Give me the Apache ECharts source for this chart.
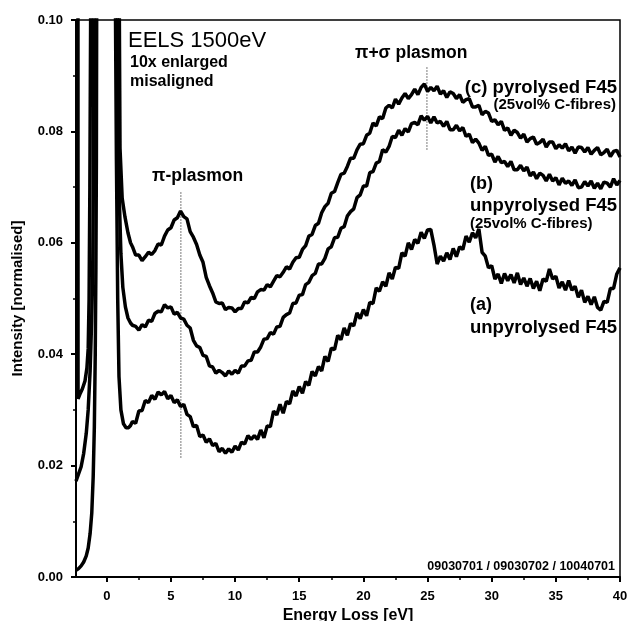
<!DOCTYPE html>
<html>
<head>
<meta charset="utf-8">
<script src="https://cdn.jsdelivr.net/npm/echarts@6/dist/echarts.min.js"></script>
<style>
  html, body { margin: 0; padding: 0; background: #fff; }
  #chart { width: 627px; height: 621px; }
</style>
</head>
<body>
<div id="chart"></div>
<script>
// energy grid (eV) for the part of the spectra after the zero-loss peak
const energy = [
  2, 2.25, 2.5, 2.75, 3, 3.25, 3.5, 3.75, 4, 4.25, 4.5, 4.75,
  5, 5.25, 5.5, 5.75, 6, 6.25, 6.5, 6.75, 7, 7.25, 7.5, 7.75,
  8, 8.25, 8.5, 8.75, 9, 9.25, 9.5, 9.75, 10, 10.25, 10.5, 10.75,
  11, 11.25, 11.5, 11.75, 12, 12.25, 12.5, 12.75, 13, 13.25, 13.5, 13.75,
  14, 14.25, 14.5, 14.75, 15, 15.25, 15.5, 15.75, 16, 16.25, 16.5, 16.75,
  17, 17.25, 17.5, 17.75, 18, 18.25, 18.5, 18.75, 19, 19.25, 19.5, 19.75,
  20, 20.25, 20.5, 20.75, 21, 21.25, 21.5, 21.75, 22, 22.25, 22.5, 22.75,
  23, 23.25, 23.5, 23.75, 24, 24.25, 24.5, 24.75, 25, 25.25, 25.5, 25.75,
  26, 26.25, 26.5, 26.75, 27, 27.25, 27.5, 27.75, 28, 28.25, 28.5, 28.75,
  29, 29.25, 29.5, 29.75, 30, 30.25, 30.5, 30.75, 31, 31.25, 31.5, 31.75,
  32, 32.25, 32.5, 32.75, 33, 33.25, 33.5, 33.75, 34, 34.25, 34.5, 34.75,
  35, 35.25, 35.5, 35.75, 36, 36.25, 36.5, 36.75, 37, 37.25, 37.5, 37.75,
  38, 38.25, 38.5, 38.75, 39, 39.25, 39.5, 39.75, 40
];

// (c) pyrolysed F45
const curveC = [
  0.0593, 0.0578, 0.0578, 0.0568, 0.0575, 0.0583, 0.0579, 0.0586, 0.0598, 0.0596, 0.0612, 0.0623,
  0.0627, 0.0641, 0.0645, 0.0657, 0.0647, 0.0643, 0.0620, 0.0610, 0.0597, 0.0578, 0.0565, 0.0538,
  0.0523, 0.0510, 0.0494, 0.0491, 0.0492, 0.0480, 0.0484, 0.0483, 0.0476, 0.0482, 0.0482, 0.0494,
  0.0492, 0.0502, 0.0500, 0.0512, 0.0516, 0.0515, 0.0525, 0.0521, 0.0531, 0.0541, 0.0539, 0.0547,
  0.0557, 0.0553, 0.0565, 0.0573, 0.0574, 0.0588, 0.0595, 0.0612, 0.0615, 0.0631, 0.0635, 0.0654,
  0.0665, 0.0671, 0.0689, 0.0692, 0.0708, 0.0723, 0.0725, 0.0737, 0.0752, 0.0752, 0.0767, 0.0777,
  0.0778, 0.0793, 0.0797, 0.0815, 0.0810, 0.0826, 0.0823, 0.0842, 0.0847, 0.0842, 0.0858, 0.0849,
  0.0860, 0.0868, 0.0859, 0.0866, 0.0876, 0.0866, 0.0879, 0.0885, 0.0872, 0.0879, 0.0873, 0.0881,
  0.0867, 0.0873, 0.0861, 0.0871, 0.0868, 0.0859, 0.0866, 0.0852, 0.0857, 0.0859, 0.0844, 0.0844,
  0.0847, 0.0830, 0.0836, 0.0833, 0.0818, 0.0821, 0.0812, 0.0818, 0.0802, 0.0806, 0.0793, 0.0802,
  0.0798, 0.0788, 0.0795, 0.0781, 0.0787, 0.0790, 0.0777, 0.0780, 0.0786, 0.0772, 0.0781, 0.0781,
  0.0769, 0.0776, 0.0770, 0.0778, 0.0765, 0.0772, 0.0761, 0.0772, 0.0771, 0.0763, 0.0771, 0.0759,
  0.0766, 0.0771, 0.0758, 0.0762, 0.0768, 0.0755, 0.0764, 0.0766, 0.0754
];

// (b) unpyrolysed F45 (25vol% C-fibres)
const curveB = [
  0.0452, 0.0450, 0.0443, 0.0453, 0.0449, 0.0461, 0.0459, 0.0473, 0.0477, 0.0476, 0.0489, 0.0483,
  0.0485, 0.0472, 0.0475, 0.0465, 0.0463, 0.0452, 0.0447, 0.0425, 0.0415, 0.0412, 0.0398, 0.0396,
  0.0379, 0.0377, 0.0366, 0.0371, 0.0367, 0.0361, 0.0370, 0.0364, 0.0371, 0.0366, 0.0379, 0.0379,
  0.0388, 0.0389, 0.0404, 0.0404, 0.0413, 0.0427, 0.0428, 0.0439, 0.0436, 0.0449, 0.0450, 0.0466,
  0.0471, 0.0474, 0.0491, 0.0492, 0.0506, 0.0507, 0.0525, 0.0529, 0.0541, 0.0545, 0.0562, 0.0562,
  0.0572, 0.0589, 0.0593, 0.0609, 0.0610, 0.0626, 0.0629, 0.0648, 0.0656, 0.0661, 0.0681, 0.0686,
  0.0702, 0.0702, 0.0726, 0.0728, 0.0743, 0.0746, 0.0767, 0.0763, 0.0773, 0.0791, 0.0789, 0.0802,
  0.0793, 0.0805, 0.0799, 0.0814, 0.0816, 0.0812, 0.0828, 0.0820, 0.0827, 0.0815, 0.0826, 0.0815,
  0.0818, 0.0809, 0.0818, 0.0803, 0.0803, 0.0811, 0.0801, 0.0807, 0.0791, 0.0795, 0.0780, 0.0786,
  0.0779, 0.0766, 0.0773, 0.0757, 0.0759, 0.0745, 0.0755, 0.0744, 0.0746, 0.0737, 0.0746, 0.0731,
  0.0731, 0.0739, 0.0729, 0.0736, 0.0720, 0.0727, 0.0715, 0.0725, 0.0721, 0.0711, 0.0723, 0.0711,
  0.0717, 0.0704, 0.0716, 0.0707, 0.0711, 0.0703, 0.0713, 0.0699, 0.0700, 0.0710, 0.0702, 0.0711,
  0.0698, 0.0707, 0.0697, 0.0709, 0.0707, 0.0700, 0.0715, 0.0704, 0.0712
];

// (a) unpyrolysed F45
const curveA = [
  0.0279, 0.0276, 0.0298, 0.0299, 0.0317, 0.0313, 0.0326, 0.0319, 0.0332, 0.0327, 0.0333, 0.0320,
  0.0326, 0.0313, 0.0318, 0.0306, 0.0310, 0.0292, 0.0288, 0.0270, 0.0272, 0.0252, 0.0255, 0.0242,
  0.0248, 0.0236, 0.0240, 0.0225, 0.0231, 0.0222, 0.0230, 0.0224, 0.0235, 0.0228, 0.0242, 0.0239,
  0.0254, 0.0247, 0.0254, 0.0247, 0.0264, 0.0250, 0.0271, 0.0270, 0.0298, 0.0291, 0.0310, 0.0294,
  0.0315, 0.0311, 0.0334, 0.0325, 0.0342, 0.0330, 0.0351, 0.0344, 0.0369, 0.0361, 0.0378, 0.0370,
  0.0396, 0.0387, 0.0411, 0.0408, 0.0434, 0.0426, 0.0447, 0.0434, 0.0455, 0.0451, 0.0474, 0.0464,
  0.0480, 0.0469, 0.0493, 0.0491, 0.0519, 0.0513, 0.0530, 0.0522, 0.0546, 0.0535, 0.0556, 0.0554,
  0.0582, 0.0576, 0.0600, 0.0588, 0.0606, 0.0599, 0.0619, 0.0608, 0.0623, 0.0624, 0.0596, 0.0562,
  0.0576, 0.0567, 0.0582, 0.0570, 0.0590, 0.0575, 0.0593, 0.0588, 0.0612, 0.0601, 0.0618, 0.0609,
  0.0625, 0.0583, 0.0576, 0.0555, 0.0559, 0.0535, 0.0544, 0.0527, 0.0545, 0.0532, 0.0543, 0.0528,
  0.0546, 0.0525, 0.0537, 0.0522, 0.0536, 0.0518, 0.0531, 0.0514, 0.0535, 0.0531, 0.0553, 0.0535,
  0.0540, 0.0519, 0.0530, 0.0515, 0.0532, 0.0515, 0.0522, 0.0502, 0.0515, 0.0493, 0.0504, 0.0489,
  0.0503, 0.0484, 0.0479, 0.0495, 0.0493, 0.0518, 0.0518, 0.0544, 0.0555
];

// zero-loss peak region [eV, intensity], goes far above the plotted range
const zeroLossC = [
  [-2.25, 0.15], [-2.24, 0.0320], [-2.1, 0.0328], [-1.9, 0.0338], [-1.7, 0.0352], [-1.55, 0.0375],
  [-1.45, 0.041], [-1.38, 0.050], [-1.32, 0.070], [-1.26, 0.10], [-1.2, 0.15], [-0.2, 0.5],
  [0.95, 0.15], [0.98, 0.10], [1.03, 0.077], [1.2, 0.0680], [1.42, 0.0646], [1.65, 0.0618], [1.85, 0.0600]
];
const zeroLossB = [
  [-2.4, 0.0172], [-2.2, 0.0185], [-2.0, 0.0198], [-1.8, 0.0222], [-1.6, 0.0258], [-1.45, 0.030],
  [-1.3, 0.037], [-1.18, 0.046], [-1.1, 0.054], [-1.05, 0.07], [-1.02, 0.10], [-0.98, 0.15], [-0.2, 0.5],
  [0.8, 0.15], [0.83, 0.10], [0.9, 0.08], [1.0, 0.066], [1.1, 0.058], [1.25, 0.052], [1.45, 0.0485],
  [1.65, 0.0465], [1.85, 0.0456]
];
const zeroLossA = [
  [-2.4, 0.0012], [-2.2, 0.0015], [-2.0, 0.0020], [-1.8, 0.0027], [-1.6, 0.0038], [-1.45, 0.0052],
  [-1.3, 0.0078], [-1.17, 0.0115], [-1.06, 0.0180], [-0.97, 0.0270], [-0.9, 0.040], [-0.85, 0.055],
  [-0.81, 0.075], [-0.79, 0.10], [-0.76, 0.15], [-0.2, 0.5],
  [0.65, 0.15], [0.68, 0.10], [0.75, 0.075], [0.85, 0.05], [0.95, 0.036], [1.1, 0.030], [1.3, 0.0275],
  [1.5, 0.0268], [1.7, 0.0268], [1.85, 0.0272]
];

// plasmon marker lines [eV, intensity]
const piPlasmonMark = [[5.77, 0.0214], [5.77, 0.0693]];
const piSigmaPlasmonMark = [[24.95, 0.0767], [24.95, 0.0916]];

const xMajorTicks = [0, 5, 10, 15, 20, 25, 30, 35, 40];
const xMinorTicks = [2.5, 7.5, 12.5, 17.5, 22.5, 27.5, 32.5, 37.5];

const FONT = '"Liberation Sans", Arial, sans-serif';

function buildCurve(zeroLoss, values) {
  return zeroLoss.concat(energy.map((e, i) => [e, values[i]]));
}

const chart = echarts.init(document.getElementById('chart'), null, { renderer: 'canvas' });

const curveStyle = { color: '#000', width: 3.5 };
const markStyle = { color: '#8a8a8a', width: 1.5, type: 'dotted' };

function label(text, x, y, size, align) {
  return {
    type: 'text',
    x: x,
    y: y,
    z: 100,
    style: {
      text: text,
      fill: '#000',
      font: 'bold ' + size + 'px ' + FONT,
      align: align || 'left',
      verticalAlign: 'top'
    }
  };
}

const option = {
  animation: false,
  backgroundColor: '#fff',
  grid: [
    {
      left: 76, right: 7, top: 20, bottom: 44, outerBoundsMode: 'none',
      show: true, borderColor: '#000', borderWidth: 1.5
    },
    { left: 76, right: 7, top: 20, bottom: 44, outerBoundsMode: 'none', show: false }
  ],
  xAxis: [
    {
      type: 'value',
      gridIndex: 0,
      min: -2.4,
      max: 40,
      name: 'Energy Loss [eV]',
      nameLocation: 'middle',
      nameGap: 28,
      nameTextStyle: { fontFamily: FONT, fontWeight: 'bold', fontSize: 16, color: '#000' },
      axisLine: { show: true, onZero: false, lineStyle: { color: '#000', width: 2 } },
      axisTick: { show: true, customValues: xMajorTicks, length: 5, lineStyle: { color: '#000', width: 2 } },
      axisLabel: {
        customValues: xMajorTicks, margin: 13,
        fontFamily: FONT, fontWeight: 'bold', fontSize: 13, color: '#000'
      },
      splitLine: { show: false }
    },
    {
      type: 'value',
      gridIndex: 1,
      min: -2.4,
      max: 40,
      axisLine: { show: false, onZero: false },
      axisTick: { show: true, customValues: xMinorTicks, length: 3, lineStyle: { color: '#000', width: 1.5 } },
      axisLabel: { show: false },
      splitLine: { show: false }
    }
  ],
  yAxis: [
    {
      type: 'value',
      gridIndex: 0,
      min: 0,
      max: 0.1,
      interval: 0.02,
      name: 'Intensity [normalised]',
      nameLocation: 'middle',
      nameGap: 51,
      nameTextStyle: { fontFamily: FONT, fontWeight: 'bold', fontSize: 15, color: '#000' },
      axisLine: { show: true, onZero: false, lineStyle: { color: '#000', width: 2 } },
      axisTick: { show: true, length: 5, lineStyle: { color: '#000', width: 2 } },
      minorTick: { show: true, splitNumber: 2, length: 3, lineStyle: { color: '#000', width: 1.5 } },
      axisLabel: {
        margin: 13,
        fontFamily: FONT, fontWeight: 'bold', fontSize: 13, color: '#000',
        formatter: v => v.toFixed(2)
      },
      splitLine: { show: false },
      minorSplitLine: { show: false }
    },
    { type: 'value', gridIndex: 1, min: 0, max: 0.1, show: false }
  ],
  series: [
    {
      type: 'line', data: piPlasmonMark, showSymbol: false, symbol: 'none',
      lineStyle: markStyle, z: 1, silent: true
    },
    {
      type: 'line', data: piSigmaPlasmonMark, showSymbol: false, symbol: 'none',
      lineStyle: markStyle, z: 1, silent: true
    },
    {
      name: '(a) unpyrolysed F45', type: 'line', data: buildCurve(zeroLossA, curveA),
      showSymbol: false, symbol: 'none', lineStyle: curveStyle, clip: true, z: 3
    },
    {
      name: '(b) unpyrolysed F45', type: 'line', data: buildCurve(zeroLossB, curveB),
      showSymbol: false, symbol: 'none', lineStyle: curveStyle, clip: true, z: 3
    },
    {
      name: '(c) pyrolysed F45', type: 'line', data: buildCurve(zeroLossC, curveC),
      showSymbol: false, symbol: 'none', lineStyle: curveStyle, clip: true, z: 3
    }
  ],
  graphic: [
    {
      type: 'text', x: 128, y: 30, z: 100,
      style: { text: 'EELS 1500eV', fill: '#000', font: 'normal 22px ' + FONT, verticalAlign: 'top' }
    },
    label('10x enlarged', 130, 55, 16),
    label('misaligned', 130, 74, 16),
    label('π-plasmon', 152, 167, 17.5),
    label('π+σ plasmon', 355, 44, 17.5),
    label('(c) pyrolysed F45', 617, 78, 18.5, 'right'),
    label('(25vol% C-fibres)', 616, 97, 15, 'right'),
    label('(b)', 470, 175, 18),
    label('unpyrolysed F45', 470, 196, 18.5),
    label('(25vol% C-fibres)', 470, 216, 15),
    label('(a)', 470, 296, 18),
    label('unpyrolysed F45', 470, 318, 18.5),
    label('09030701 / 09030702 / 10040701', 615, 560, 12.5, 'right')
  ]
};

chart.setOption(option);
</script>
</body>
</html>
